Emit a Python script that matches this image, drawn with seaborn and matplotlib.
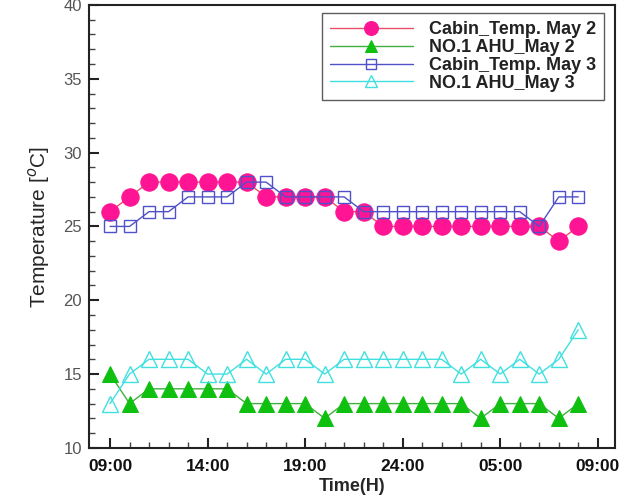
import matplotlib
matplotlib.use("Agg")
import matplotlib.pyplot as plt
import seaborn as sns
import pandas as pd

sns.set_theme(style="ticks")
plt.rcParams['font.family'] = ['Liberation Sans', 'DejaVu Sans']

hours = list(range(9, 34))
cabin_may2 = [26, 27, 28, 28, 28, 28, 28, 28, 27, 27, 27, 27, 26, 26, 25, 25, 25, 25, 25, 25, 25, 25, 25, 24, 25]
ahu_may2 = [15, 13, 14, 14, 14, 14, 14, 13, 13, 13, 13, 12, 13, 13, 13, 13, 13, 13, 13, 12, 13, 13, 13, 12, 13]
cabin_may3 = [25, 25, 26, 26, 27, 27, 27, 28, 28, 27, 27, 27, 27, 26, 26, 26, 26, 26, 26, 26, 26, 26, 25, 27, 27]
ahu_may3 = [13, 15, 16, 16, 16, 15, 15, 16, 15, 16, 16, 15, 16, 16, 16, 16, 16, 16, 15, 16, 15, 16, 15, 16, 18]

tick_pos = [9, 14, 19, 24, 29, 34]
tick_labels = ["09:00", "14:00", "19:00", "24:00", "05:00", "09:00"]

fig = plt.figure(figsize=(6.2, 4.96), dpi=100)
ax = fig.add_axes([0.1435, 0.097, 0.849, 0.893])

series = [
    ("Cabin_Temp. May 2", cabin_may2, dict(color="#e8506a", marker="o", markersize=12.5,
                                          markerfacecolor="#ff1493", markeredgecolor="#ff1493")),
    ("NO.1 AHU_May 2", ahu_may2, dict(color="#40b040", marker="^", markersize=11,
                                      markerfacecolor="#10c010", markeredgecolor="#10c010")),
    ("Cabin_Temp. May 3", cabin_may3, dict(color="#5050c8", marker="s", markersize=9,
                                          markerfacecolor="none", markeredgecolor="#5050c8",
                                          markeredgewidth=1.0)),
    ("NO.1 AHU_May 3", ahu_may3, dict(color="#40e0e0", marker="^", markersize=11,
                                      markerfacecolor="none", markeredgecolor="#40e0e0",
                                      markeredgewidth=1.0)),
]

for name, vals, kw in series:
    df = pd.DataFrame({"Hour": hours, "Temp": vals})
    sns.lineplot(data=df, x="Hour", y="Temp", ax=ax, label=name, linewidth=1.0, **kw)

ax.set_xlim(7.92, 34.9)
ax.set_ylim(10, 40)
ax.set_xticks(tick_pos)
ax.set_xticklabels(tick_labels, fontweight="bold", fontsize=12.5, color="#111111")
ax.set_xticks(range(9, 35), minor=True)
ax.set_yticks(range(10, 41, 5))
ax.set_yticks(range(10, 41, 1), minor=True)
ax.tick_params(axis="y", labelsize=12, labelcolor="#555555", pad=5)
ax.tick_params(axis="x", pad=8)
ax.tick_params(which="major", direction="in", length=7, width=1.5, color="#222222")
ax.tick_params(which="minor", direction="in", length=4, width=1.0, color="#444444")
for s in ax.spines.values():
    s.set_linewidth(1.5)
    s.set_color("#222222")

ax.set_xlabel("Time(H)", fontsize=13, fontweight="bold", labelpad=3)
ax.set_ylabel("Temperature [$^o$C]", fontsize=15, labelpad=8)

leg = ax.legend(loc="upper right", bbox_to_anchor=(0.979, 0.982), frameon=True, fancybox=False,
                edgecolor="#333333", fontsize=13, handlelength=4.6, handletextpad=0.9,
                labelspacing=0.05, borderpad=0.45, markerscale=0.8, borderaxespad=0)
leg.get_frame().set_linewidth(1.0)
for t in leg.get_texts():
    t.set_fontweight("bold")
    t.set_color("#222222")

fig.savefig("out.png", dpi=100)
